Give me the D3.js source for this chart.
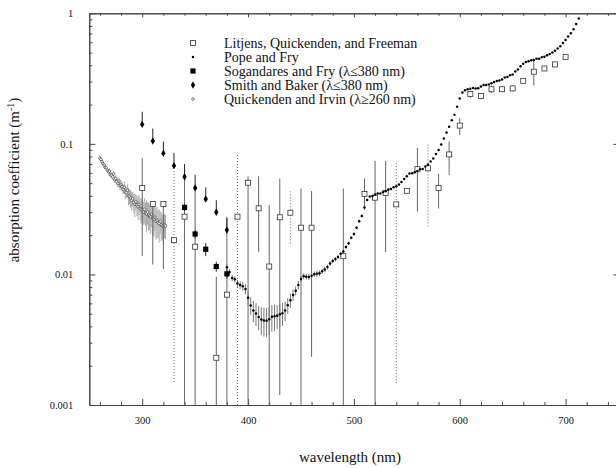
<!DOCTYPE html>
<html>
<head>
<meta charset="utf-8">
<script src="https://cdnjs.cloudflare.com/ajax/libs/d3/7.8.5/d3.min.js"></script>
<style>
body { margin: 0; background: #fff; }
svg { display: block; }
text { font-family: "Liberation Serif", "DejaVu Serif", serif; fill: #111; }
</style>
</head>
<body>
<div id="chart"></div>
<script>
var w = 616,
  h = 468;

// Pope and Fry
var popeWl = [380,382.5,385,387.5,390,392.5,395,397.5,400,402.5,405,407.5,410,412.5,415,417.5,420,422.5,425,427.5,
  430,432.5,435,437.5,440,442.5,445,447.5,450,452.5,455,457.5,460,462.5,465,467.5,470,472.5,475,477.5,
  480,482.5,485,487.5,490,492.5,495,497.5,500,502.5,505,507.5,510,512.5,515,517.5,520,522.5,525,527.5,
  530,532.5,535,537.5,540,542.5,545,547.5,550,552.5,555,557.5,560,562.5,565,567.5,570,572.5,575,577.5,
  580,582.5,585,587.5,590,592.5,595,597.5,600,602.5,605,607.5,610,612.5,615,617.5,620,622.5,625,627.5,
  630,632.5,635,637.5,640,642.5,645,647.5,650,652.5,655,657.5,660,662.5,665,667.5,670,672.5,675,677.5,
  680,682.5,685,687.5,690,692.5,695,697.5,700,702.5,705,707.5,710,712.5];
var popeVal = [0.01137,0.01044,0.00941,0.00917,0.00851,0.00829,0.00813,0.00775,0.00663,0.00579,0.00530,0.00503,0.00473,0.00452,0.00444,0.00442,0.00454,0.00474,0.00478,0.00482,
  0.00495,0.00504,0.00530,0.00580,0.00635,0.00696,0.00751,0.00830,0.00922,0.00969,0.00962,0.00957,0.00979,0.01005,0.01011,0.01020,0.01060,0.01090,0.01140,0.01210,
  0.01270,0.01310,0.01360,0.01440,0.01500,0.01620,0.01730,0.01910,0.02040,0.02280,0.02560,0.02800,0.03250,0.03720,0.03960,0.03990,0.04090,0.04160,0.04170,0.04280,
  0.04340,0.04470,0.04520,0.04660,0.04740,0.04890,0.05110,0.05370,0.05650,0.05930,0.05960,0.06060,0.06190,0.06400,0.06420,0.06720,0.06950,0.07330,0.07720,0.08360,
  0.08960,0.09890,0.11000,0.12200,0.13510,0.15160,0.16720,0.19250,0.22240,0.24700,0.25770,0.26180,0.26440,0.26780,0.26550,0.26670,0.27550,0.28300,0.28290,0.28460,
  0.29160,0.29720,0.30270,0.30560,0.31080,0.32200,0.32500,0.33500,0.34000,0.35800,0.37100,0.39300,0.41000,0.42400,0.42900,0.43600,0.43900,0.44800,0.44800,0.46100,
  0.46500,0.47800,0.48700,0.50000,0.51600,0.53800,0.55900,0.59200,0.62400,0.66300,0.70400,0.75600,0.82700,0.91400];
// error for the first points only (380-510 nm)
var popeErr = [0.0005,0.0005,0.0005,0.0005,0.0006,0.0006,0.0006,0.0007,0.0008,0.0009,0.0010,0.0010,0.0010,0.0011,0.0011,0.0011,0.0011,0.0011,0.0011,0.0010,
  0.0010,0.0010,0.0009,0.0008,0.0008,0.0007,0.0006,0.0006,0.0005,0.0005,0.0005,0.0005,0.0005,0.0005,0.0005,0.0005,0.0005,0.0005,0.0005,0.0005,
  0.0005,0.0005,0.0005,0.0005,0.0005,0.0005,0.0005,0.0005,0.0006,0.0006,0.0007,0.0007,0.0008];

// Litjens, Quickenden, and Freeman
var litWl = [300,310,320,330,340,350,370,380,390,400,410,420,430,440,450,460,490,510,520,530,540,550,560,570,580,590,600,610,620,630,640,650,660,670,680,690,700];
var litVal = [0.046,0.0346,0.0346,0.0183,0.0277,0.0163,0.0023,0.0070,0.0277,0.0504,0.0321,0.0115,0.0274,0.0297,0.0228,0.0228,0.0138,0.0413,0.0387,0.042,0.0344,0.0437,0.064,0.065,0.046,0.083,0.138,0.241,0.233,0.262,0.262,0.266,0.304,0.357,0.378,0.406,0.464];
var litHi = [0.0775,0.036,0.036,0.062,0.056,0.0455,0.0096,0.0277,0.0846,0.0565,0.0565,0.034,0.0543,0.0432,0.0455,0.0436,0.0455,0.0543,0.074,0.074,0.074,0.0437,0.0933,0.10,0.059,0.104,0.157,0.255,0.245,0.28,0.275,0.28,0.315,0.438,0.378,0.42,0.464];
var litLo = [0.0138,0.0119,0.011,0.0015,0.001,0.001,0.001,0.001,0.001,0.001,0.0148,0.001,0.00119,0.0173,0.001,0.00234,0.001,0.0312,0.001,0.0148,0.00147,0.0437,0.0303,0.0233,0.032,0.0579,0.117,0.225,0.22,0.245,0.25,0.253,0.295,0.28,0.378,0.395,0.464];

// Sogandares and Fry
var sfWl = [340,350,360,370,380];
var sfVal = [0.0326,0.0204,0.0156,0.0115,0.0101];
var sfErr = [0.002,0.0015,0.0018,0.001,0.0008];

// Smith and Baker
var sbWl = [300,310,320,330,340,350,360,370,380];
var sbVal = [0.141,0.105,0.0846,0.068,0.056,0.046,0.0378,0.0299,0.0219];
var sbHi = [0.176,0.131,0.104,0.085,0.07,0.058,0.0464,0.037,0.027];

// Quickenden and Irvin
var qiWl = [260,261,262,263,264,265,266,267,268,269,270,271,272,273,274,275,276,277,278,279,280,
  281,282,283,284,285,286,287,288,289,290,291,292,293,294,295,296,297,298,299,300,
  301,302,303,304,305,306,307,308,309,310,311,312,313,314,315,316,317,318,319,320,321,322];
var qiVal = [0.0775,0.0760,0.0730,0.0705,0.0690,0.0660,0.0655,0.0630,0.0610,0.0620,0.0580,0.0575,0.0560,0.0590,0.0530,0.0545,0.0515,0.0500,0.0520,0.0480,0.0485,
  0.0470,0.0450,0.0465,0.0430,0.0425,0.0440,0.0400,0.0395,0.0385,0.0370,0.0380,0.0355,0.0345,0.0360,0.0340,0.0330,0.0345,0.0320,0.0315,0.0310,
  0.0300,0.0315,0.0295,0.0290,0.0300,0.0285,0.0280,0.0275,0.0290,0.0270,0.0265,0.0275,0.0255,0.0260,0.0250,0.0245,0.0255,0.0240,0.0235,0.0232,0.0240,0.0236];
var qiErr = [0.002,0.002,0.002,0.002,0.002,0.002,0.002,0.002,0.002,0.003,0.002,0.003,0.003,0.003,0.003,0.003,0.003,0.004,0.003,0.004,0.004,
  0.004,0.004,0.005,0.005,0.004,0.005,0.006,0.005,0.006,0.006,0.005,0.006,0.007,0.005,0.006,0.007,0.006,0.006,0.007,0.006,
  0.006,0.007,0.006,0.008,0.006,0.007,0.006,0.007,0.006,0.007,0.007,0.006,0.007,0.007,0.006,0.007,0.005,0.006,0.005,0.006,0.005,0.005];

var xMajor = [300,400,500,600,700];
var xMinor = [260,280,320,340,360,380,420,440,460,480,520,540,560,580,620,640,660,680,720,740];
var yMajor = [0.001,0.01,0.1,1];
var yLabels = ["0.001","0.01","0.1","1"];

var legendNames = ["Litjens, Quickenden, and Freeman","Pope and Fry","Sogandares and Fry (\u03bb\u2264380 nm)","Smith and Baker (\u03bb\u2264380 nm)","Quickenden and Irvin (\u03bb\u2265260 nm)"];

var dottedBars = [330, 390, 440, 540, 570];

var x = d3.scaleLinear().domain([250, 750]).range([89.3, 618.5]);
var y = d3.scaleLog().domain([0.001, 1]).range([405, 13.3]);

var svg = d3.select("#chart").append("svg").attr("width", w).attr("height", h);

function yMinorTicks() {
  var t = [];
  y.ticks(30).forEach(function (v) {
    if (yMajor.indexOf(v) < 0) t.push(v);
  });
  return t;
}

function drawAxes() {
  var ax = svg.append("g").attr("class", "axes");

  ax.append("g").attr("transform", "translate(0,405)")
    .call(d3.axisBottom(x).tickValues(xMajor).tickSize(-6).tickSizeOuter(0).tickPadding(12).tickFormat(d3.format("d")));
  ax.append("g").attr("transform", "translate(0,405)")
    .call(d3.axisBottom(x).tickValues(xMinor).tickSize(-3).tickSizeOuter(0).tickFormat(""));

  ax.append("g").attr("transform", "translate(0,13.3)")
    .call(d3.axisTop(x).tickValues(xMajor).tickSize(-4).tickSizeOuter(0).tickFormat(""));
  ax.append("g").attr("transform", "translate(0,13.3)")
    .call(d3.axisTop(x).tickValues(xMinor).tickSize(-2.5).tickSizeOuter(0).tickFormat(""));

  ax.append("g").attr("transform", "translate(89.3,0)")
    .call(d3.axisLeft(y).tickValues(yMajor).tickSize(-6).tickSizeOuter(0).tickPadding(16)
      .tickFormat(function (d, i) { return yLabels[i]; }));
  ax.append("g").attr("transform", "translate(89.3,0)")
    .call(d3.axisLeft(y).tickValues(yMinorTicks()).tickSize(-3).tickSizeOuter(0).tickFormat(""));

  ax.append("g").attr("transform", "translate(618.5,0)")
    .call(d3.axisRight(y).tickValues(yMajor).tickSize(-5).tickSizeOuter(0).tickFormat(""));
  ax.append("g").attr("transform", "translate(618.5,0)")
    .call(d3.axisRight(y).tickValues(yMinorTicks()).tickSize(-2).tickSizeOuter(0).tickFormat(""));

  ax.selectAll("path.domain").attr("stroke", "#444");
  ax.selectAll(".tick line").attr("stroke", "#444");
  ax.selectAll(".tick text").style("font-size", "10.5px").attr("fill", "#111");

  svg.append("text").attr("x", 350).attr("y", 462).attr("text-anchor", "middle")
    .style("font-size", "15px").text("wavelength (nm)");

  var yl = svg.append("text").attr("transform", "translate(19,180) rotate(-90)")
    .attr("text-anchor", "middle").style("font-size", "15px");
  yl.append("tspan").text("absorption coefficient (m");
  yl.append("tspan").attr("dy", -5).style("font-size", "10px").text("-1");
  yl.append("tspan").attr("dy", 5).text(")");
}

function bar(g, xv, lo, hi, dotted, color) {
  var l = g.append("line").attr("x1", x(xv)).attr("x2", x(xv))
    .attr("y1", y(Math.max(lo, 0.001))).attr("y2", y(Math.min(hi, 1)))
    .attr("stroke", color).attr("stroke-width", 1);
  if (dotted) l.attr("stroke-dasharray", "1,2");
}

function drawData() {
  var g = svg.append("g");

  // Quickenden and Irvin
  var qi = g.append("g");
  qiWl.forEach(function (d, i) {
    bar(qi, d, qiVal[i] - qiErr[i], qiVal[i] + qiErr[i], false, "#aaa");
  });
  qi.selectAll("circle").data(qiWl).enter().append("circle")
    .attr("cx", function (d) { return x(d); })
    .attr("cy", function (d, i) { return y(qiVal[i]); })
    .attr("r", 1.3).attr("fill", "#fff").attr("stroke", "#444").attr("stroke-width", 0.7);

  // Litjens bars + squares
  var lit = g.append("g");
  litWl.forEach(function (d, i) {
    if (litHi[i] > litLo[i]) bar(lit, d, litLo[i], litHi[i], dottedBars.indexOf(d) >= 0, "#666");
  });

  // Pope and Fry
  var pf = g.append("g");
  popeErr.forEach(function (e, i) {
    bar(pf, popeWl[i], popeVal[i] - e, popeVal[i] + e, false, "#777");
  });
  pf.selectAll("circle").data(popeWl).enter().append("circle")
    .attr("cx", function (d) { return x(d); })
    .attr("cy", function (d, i) { return y(popeVal[i]); })
    .attr("r", 1.25).attr("fill", "#000");

  lit.selectAll("rect").data(litWl).enter().append("rect")
    .attr("x", function (d) { return x(d) - 2.5; })
    .attr("y", function (d, i) { return y(litVal[i]) - 2.5; })
    .attr("width", 5).attr("height", 5)
    .attr("fill", "#fff").attr("stroke", "#333").attr("stroke-width", 0.8);

  // Sogandares and Fry
  var sf = g.append("g");
  sfWl.forEach(function (d, i) {
    bar(sf, d, sfVal[i] - sfErr[i], sfVal[i] + sfErr[i], false, "#333");
  });
  sf.selectAll("rect").data(sfWl).enter().append("rect")
    .attr("x", function (d) { return x(d) - 2.6; })
    .attr("y", function (d, i) { return y(sfVal[i]) - 2.6; })
    .attr("width", 5.2).attr("height", 5.2).attr("fill", "#000");

  // Smith and Baker
  var sb = g.append("g");
  sbWl.forEach(function (d, i) {
    bar(sb, d, sbVal[i], sbHi[i], false, "#222");
  });
  sb.selectAll("path").data(sbWl).enter().append("path")
    .attr("transform", function (d, i) { return "translate(" + x(d) + "," + y(sbVal[i]) + ")"; })
    .attr("d", d3.symbol().type(d3.symbolDiamond).size(16))
    .attr("fill", "#000");
}

function drawLegend() {
  var lg = svg.append("g");
  var ly = [43, 57, 71, 85, 99];
  var sx = 193;
  lg.append("rect").attr("x", sx - 2.5).attr("y", ly[0] - 2.5).attr("width", 5).attr("height", 5)
    .attr("fill", "#fff").attr("stroke", "#333").attr("stroke-width", 0.8);
  lg.append("circle").attr("cx", sx).attr("cy", ly[1]).attr("r", 1.25).attr("fill", "#000");
  lg.append("rect").attr("x", sx - 2.6).attr("y", ly[2] - 2.6).attr("width", 5.2).attr("height", 5.2).attr("fill", "#000");
  lg.append("path").attr("transform", "translate(" + sx + "," + ly[3] + ")")
    .attr("d", d3.symbol().type(d3.symbolDiamond).size(16)).attr("fill", "#000");
  lg.append("circle").attr("cx", sx).attr("cy", ly[4]).attr("r", 1.3)
    .attr("fill", "#fff").attr("stroke", "#444").attr("stroke-width", 0.7);

  lg.selectAll("text").data(legendNames).enter().append("text")
    .attr("x", 224).attr("y", function (d, i) { return ly[i] + 4.5; })
    .style("font-size", "14px").text(function (d) { return d; });
}

drawAxes();
drawData();
drawLegend();
</script>
</body>
</html>
